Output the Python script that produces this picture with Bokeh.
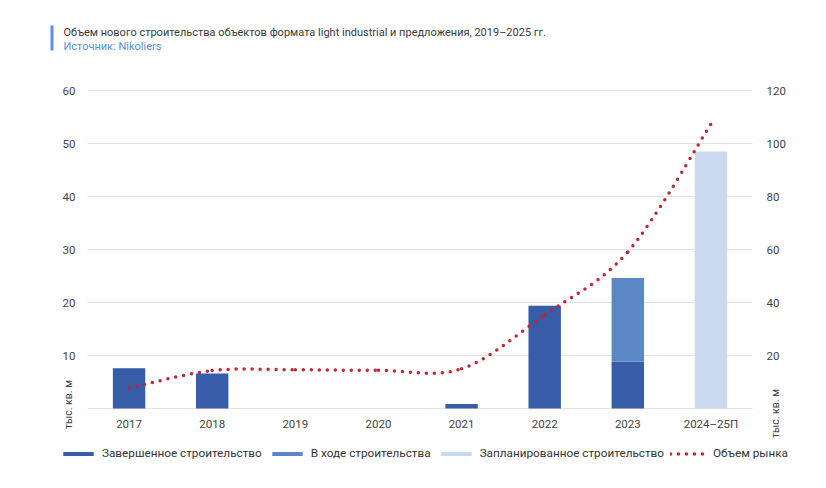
from math import pi
from bokeh.plotting import figure
from bokeh.models import (Range1d, LinearAxis, FixedTicker, Legend, LegendItem,
                          Label, BoxAnnotation, ColumnDataSource)
from bokeh.embed import file_html
from bokeh.resources import INLINE

categories = ["2017", "2018", "2019", "2020", "2021", "2022", "2023", "2024–25П"]
completed = [7.6, 6.6, 0, 0, 0.85, 19.4, 8.8, 0]
in_progress = [0, 0, 0, 0, 0, 0, 15.8, 0]
planned = [0, 0, 0, 0, 0, 0, 0, 48.5]
market = [7.7, 14.3, 14.6, 14.4, 15.0, 35.3, 59.1, 107.3]
left_ticks = [10, 20, 30, 40, 50, 60]
right_ticks = [20, 40, 60, 80, 100, 120]
title_text = "Объем нового строительства объектов формата light industrial и предложения, 2019–2025 гг."
source_text = "Источник: Nikoliers"
unit_text = "тыс. кв. м"

C_DONE = "#375da8"
C_PROG = "#5c87c5"
C_PLAN = "#c9d9ee"
C_LINE = "#c0262f"
FONT = "Roboto"

W, H = 826, 488
# plot area in page pixels
PX0, PX1, PY_TOP, PY_BOT = 87, 752, 90, 408
ncat = len(categories)
ppx = (PX1 - PX0) / ncat          # pixels per category
ppy = (PY_BOT - PY_TOP) / 60.0    # pixels per left-axis unit

p = figure(width=W, height=H, output_backend="svg", toolbar_location=None,
           x_axis_type=None, y_axis_type=None,
           x_range=Range1d(-PX0 / ppx, (W - PX0) / ppx),
           y_range=Range1d(-(H - PY_BOT) / ppy, PY_BOT / ppy),
           min_border=0, min_border_left=0, min_border_right=0,
           min_border_top=0, min_border_bottom=0)
p.outline_line_color = None
p.grid.visible = False
p.extra_y_ranges = {"right": Range1d(-(H - PY_BOT) / ppy * 2, PY_BOT / ppy * 2)}


def sy(Y):  # page y -> screen y measured from bottom
    return H - Y


# grid lines (left-axis tick values, across the category span)
grid_vals = [0] + left_ticks
p.segment(x0=[0] * len(grid_vals), x1=[ncat] * len(grid_vals), y0=grid_vals,
          y1=grid_vals, line_color="#e3e3e3", line_width=1.2)

xs = [i + 0.5 for i in range(ncat)]
src = ColumnDataSource(dict(x=xs, completed=completed, in_progress=in_progress,
                            planned=planned))
bars = p.vbar_stack(["completed", "in_progress", "planned"], x="x", width=0.39,
                    source=src, color=[C_DONE, C_PROG, C_PLAN], line_color=None)

# smooth (Excel-style) curve through the market points
n = len(market)
x0, y0, x1, y1, cx0, cy0, cx1, cy1 = [], [], [], [], [], [], [], []
for i in range(n - 1):
    xa, ya = xs[i], market[i]
    xb, yb = xs[i + 1], market[i + 1]
    xp, yp = (xs[i - 1], market[i - 1]) if i > 0 else (xa, ya)
    xn, yn = (xs[i + 2], market[i + 2]) if i + 2 < n else (xb, yb)
    x0.append(xa); y0.append(ya); x1.append(xb); y1.append(yb)
    cx0.append(xa + (xb - xp) / 6); cy0.append(ya + (yb - yp) / 6)
    cx1.append(xb - (xn - xa) / 6); cy1.append(yb - (yn - ya) / 6)
bsrc = ColumnDataSource(dict(x0=x0, y0=y0, x1=x1, y1=y1, cx0=cx0, cy0=cy0,
                             cx1=cx1, cy1=cy1))
curve = p.bezier(x0="x0", y0="y0", x1="x1", y1="y1", cx0="cx0", cy0="cy0",
                 cx1="cx1", cy1="cy1", source=bsrc, y_range_name="right",
                 line_color=C_LINE, line_width=3.5, line_dash="0 8",
                 line_cap="round")


def style(ax, standoff):
    ax.axis_line_color = None
    ax.major_tick_line_color = None
    ax.minor_tick_line_color = None
    ax.major_tick_out = 0
    ax.major_tick_in = 0
    ax.major_label_text_font = FONT
    ax.major_label_text_font_size = "11.5px"
    ax.major_label_text_color = "#444444"
    ax.major_label_standoff = standoff


# axes drawn at the canvas edges, labels pulled inward to the plot area
xax = LinearAxis(ticker=FixedTicker(ticks=xs),
                 major_label_overrides={x: c for x, c in zip(xs, categories)})
style(xax, -(H - 416))
p.add_layout(xax, "below")

lax = LinearAxis(ticker=FixedTicker(ticks=left_ticks))
style(lax, -75)
p.add_layout(lax, "left")

rax = LinearAxis(y_range_name="right", ticker=FixedTicker(ticks=right_ticks))
style(rax, -(W - 766))
p.add_layout(rax, "right")

# unit captions
for X, Y in [(68, 404), (775, 413)]:
    p.add_layout(Label(x=X, y=sy(Y), x_units="screen", y_units="screen",
                       text=unit_text, angle=pi / 2, text_align="center",
                       text_baseline="middle", text_font=FONT,
                       text_font_size="10.5px", text_color="#444444"))

# header
p.add_layout(BoxAnnotation(left=50, right=53, top=sy(25), bottom=sy(50),
                           left_units="screen", right_units="screen",
                           top_units="screen", bottom_units="screen",
                           fill_color="#5b8def", fill_alpha=1, line_color=None))
p.add_layout(Label(x=63, y=sy(32), x_units="screen", y_units="screen",
                   text=title_text, text_baseline="middle", text_font=FONT,
                   text_font_size="11px", text_color="#3a3a3a"))
p.add_layout(Label(x=63, y=sy(46), x_units="screen", y_units="screen",
                   text=source_text, text_baseline="middle", text_font=FONT,
                   text_font_size="11px", text_color="#5b8fd8"))

legend = Legend(items=[
    LegendItem(label="Завершенное строительство", renderers=[bars[0]]),
    LegendItem(label="В ходе строительства", renderers=[bars[1]]),
    LegendItem(label="Запланированное строительство", renderers=[bars[2]]),
    LegendItem(label="Объем рынка", renderers=[curve]),
], orientation="horizontal", location=(59, sy(460)),
    padding=0, margin=0, spacing=6, glyph_width=38, glyph_height=5,
    label_height=14, label_standoff=5, border_line_color=None,
    background_fill_alpha=0, label_text_font=FONT,
    label_text_font_size="11.75px", label_text_color="#333333")
p.add_layout(legend, "center")

open("out.html", "w").write(file_html(p, INLINE))
